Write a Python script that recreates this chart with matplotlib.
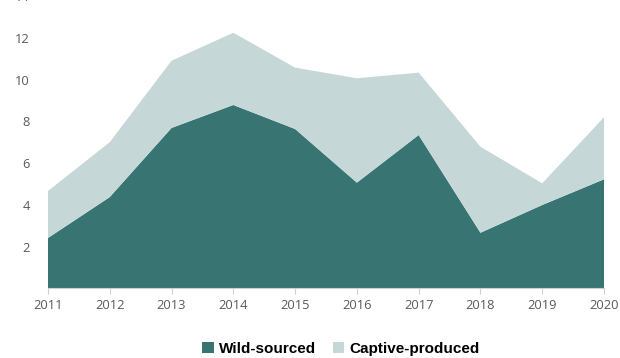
import numpy as np
import matplotlib
matplotlib.use("Agg")
import matplotlib.pyplot as plt
from matplotlib.patches import Patch

# data
years = [2011, 2012, 2013, 2014, 2015, 2016, 2017, 2018, 2019, 2020]
wild = [2.41, 4.37, 7.68, 8.78, 7.63, 5.06, 7.34, 2.66, 3.99, 5.22]
captive = [2.25, 2.63, 3.22, 3.46, 2.94, 5.00, 2.99, 4.12, 1.04, 2.97]
y_ticks = [2, 4, 6, 8, 10, 12, 14]
labels = ["Wild-sourced", "Captive-produced"]

dark = "#387572"
light = "#c5d8d7"
grey = "#595959"

fig = plt.figure(figsize=(6.2, 3.58), dpi=100)
ax = fig.add_axes([0.0774, 0.1947, 0.8968, 0.8165])

ax.stackplot(years, wild, captive, colors=[dark, light], linewidth=0)

ax.set_xlim(years[0], years[-1])
ax.set_ylim(0, 14)
ax.set_xticks(years)
ax.set_xticklabels([str(y) for y in years], fontsize=9.3, color=grey, family="Open Sans")
ax.set_yticks(y_ticks)
ax.set_yticklabels([str(t) for t in y_ticks], fontsize=9.3, color=grey, family="Open Sans")
ax.tick_params(axis="y", length=0, pad=13)
ax.tick_params(axis="x", length=4, color="#d0d0d0", pad=4)

for s in ["top", "right", "left"]:
	ax.spines[s].set_visible(False)
ax.spines["bottom"].set_color("#d0d0d0")
ax.spines["bottom"].set_linewidth(0.8)

handles = [Patch(facecolor=dark, edgecolor="none"), Patch(facecolor=light, edgecolor="none")]
fig.legend(handles, labels, loc="center", bbox_to_anchor=(0.55, 0.025), ncol=2, frameon=False,
	prop={"family": "Liberation Sans", "weight": "bold", "size": 11},
	handlelength=0.75, handleheight=0.75, handletextpad=0.35, columnspacing=1.1)

fig.savefig("out.png", dpi=100)
